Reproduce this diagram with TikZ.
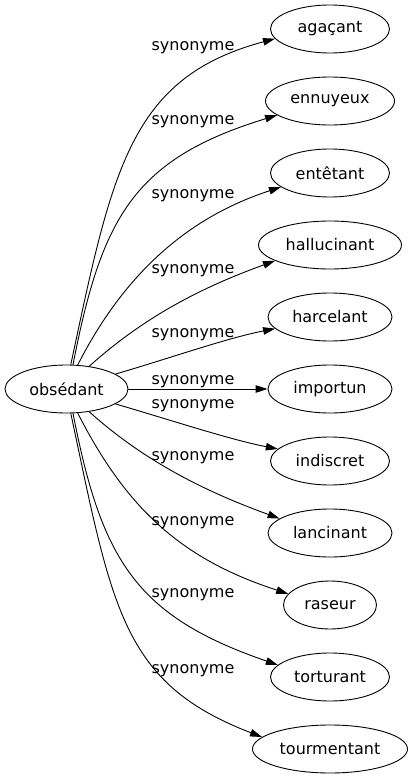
\documentclass[tikz,border=0pt]{standalone}
\usepackage{fontspec}
\setmainfont{DejaVu Sans}
\usetikzlibrary{shapes.geometric,arrows.meta}

\begin{document}
\begin{tikzpicture}[x=1pt,y=1pt,
	word/.style={ellipse,draw=black,line width=0.9pt,minimum height=48pt},
	syn/.style={draw=black,line width=0.9pt,-{Triangle[length=12pt,width=7.5pt]}},
	lab/.style={anchor=base}]
	\tikzstyle{every node}+=[inner sep=0pt,font=\fontsize{16}{19}\selectfont]
	\useasboundingbox (0,0) rectangle (412,-779);
	\node [word,minimum width=123pt] (obsedant) at (66.5,-389) {obsédant};
	\node [word,minimum width=119pt] (agacant) at (330,-29) {agaçant};
	\node [word,minimum width=129pt] (ennuyeux) at (330,-101) {ennuyeux};
	\node [word,minimum width=119pt] (entetant) at (330,-173) {entêtant};
	\node [word,minimum width=143pt] (hallucinant) at (330,-245) {hallucinant};
	\node [word,minimum width=124pt] (harcelant) at (330,-317) {harcelant};
	\node [word,minimum width=124pt] (importun) at (330,-389) {importun};
	\node [word,minimum width=119pt] (indiscret) at (330,-461) {indiscret};
	\node [word,minimum width=124pt] (lancinant) at (330,-533) {lancinant};
	\node [word,minimum width=93pt] (raseur) at (330,-605) {raseur};
	\node [word,minimum width=119pt] (torturant) at (330,-677) {torturant};
	\node [word,minimum width=155pt] (tourmentant) at (330,-749) {tourmentant};
	% labels
	\node [lab] (l1) at (193,-50) {synonyme};
	\node [lab] (l2) at (193,-124) {synonyme};
	\node [lab] (l3) at (193,-198) {synonyme};
	\node [lab] (l4) at (193,-273) {synonyme};
	\node [lab] (l5) at (193,-337) {synonyme};
	\node [lab] (l6) at (193,-384) {synonyme};
	\node [lab] (l7) at (193,-408) {synonyme};
	\node [lab] (l8) at (193,-460) {synonyme};
	\node [lab] (l9) at (193,-525) {synonyme};
	\node [lab] (l10) at (193,-597) {synonyme};
	\node [lab] (l11) at (193,-673) {synonyme};
	% edges
	\draw [syn] (obsedant.80) .. controls +(78:200) and +(195:150) .. (agacant.190);
	\draw [syn] (obsedant.75) .. controls +(79:150) and +(197:150) .. (ennuyeux.195);
	\draw [syn] (obsedant.65) .. controls +(63:100) and +(198:100) .. (entetant.196);
	\draw [syn] (obsedant.45) .. controls +(42:80) and +(200:70) .. (hallucinant.196);
	\draw [syn] (obsedant.17) .. controls +(16:50) and +(191:50) .. (harcelant.192);
	\draw [syn] (obsedant) -- (importun);
	\draw [syn] (obsedant.-17) .. controls +(-16:50) and +(169:50) .. (indiscret.167);
	\draw [syn] (obsedant.-45) .. controls +(-42:80) and +(160:70) .. (lancinant.164);
	\draw [syn] (obsedant.-65) .. controls +(-63:110) and +(162:110) .. (raseur.165);
	\draw [syn] (obsedant.-75) .. controls +(-79:150) and +(161:150) .. (torturant.167);
	\draw [syn] (obsedant.-80) .. controls +(-78:200) and +(159:150) .. (tourmentant.170);
\end{tikzpicture}
\end{document}
